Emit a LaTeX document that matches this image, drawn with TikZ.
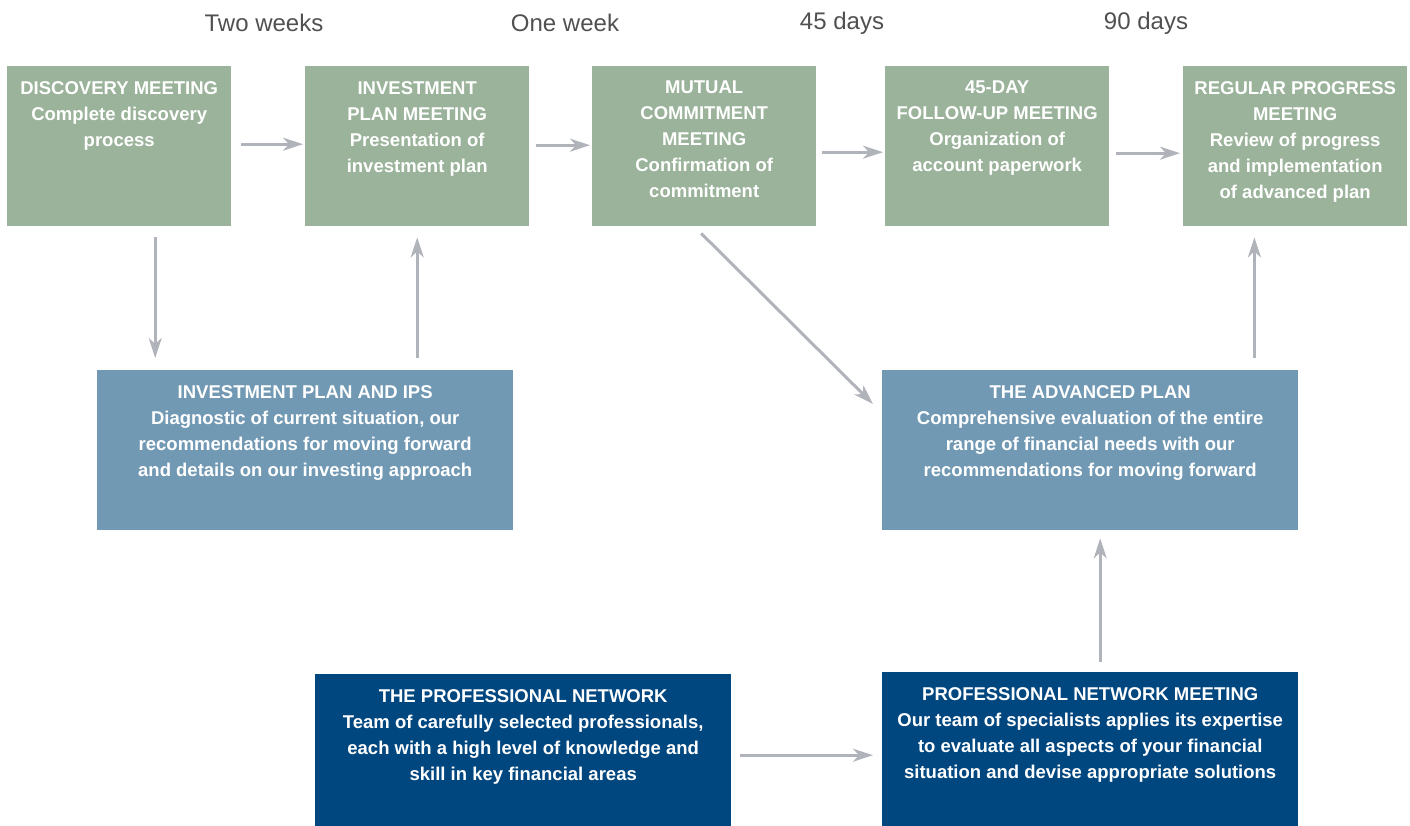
\documentclass[tikz,border=0pt]{standalone}
\usepackage{fontspec}
\setmainfont{Liberation Sans}
\usetikzlibrary{arrows.meta}
\definecolor{stepgreen}{RGB}{154,179,154}
\definecolor{planblue}{RGB}{114,153,180}
\definecolor{netblue}{RGB}{0,70,127}
\definecolor{arrowgrey}{RGB}{176,180,186}
\definecolor{timegrey}{RGB}{80,80,80}
% text of a box, set from its top edge
\newcommand{\boxlines}[3]{\parbox[t][#2pt][t]{#1pt}{\centering\vspace*{15pt}#3}}
\tikzset{
  meeting/.style={
    % The shape:
    rectangle,
    anchor=north west,
    inner sep=0pt,
    % The filling:
    fill=stepgreen,
    text=white,
    font=\bfseries\fontsize{18.5}{26}\selectfont},
  plan/.style={
    meeting,
    fill=planblue},
  network/.style={
    meeting,
    fill=netblue},
  timelabel/.style={
    text=timegrey,
    font=\fontsize{24}{26}\selectfont},
  tip/.style={
    -{Stealth[length=20pt,width=13pt,inset=6pt]},
    draw=arrowgrey,
    line width=3pt}
}

\begin{document}
\begin{tikzpicture}[x=1pt,y=-1pt]
  \useasboundingbox (0,0) rectangle (1410,826);

  % time spans
  \node (twoweeks) [timelabel] at (264,23)  {Two weeks};
  \node (oneweek)  [timelabel] at (565,23)  {One week};
  \node (days45)   [timelabel] at (842,23)  {45 days};
  \node (days90)   [timelabel] at (1146,23) {90 days};

  % meetings
  \node (discovery) [meeting] at (7,66)
    {\boxlines{224}{160}{DISCOVERY MEETING\\Complete discovery\\process}};
  \node (invmeet)   [meeting] at (305,66)
    {\boxlines{224}{160}{INVESTMENT\\PLAN MEETING\\Presentation of\\investment plan}};
  \node (mutual)    [meeting] at (592,66)
    {\boxlines{224}{160}{MUTUAL\\COMMITMENT\\MEETING\\Confirmation of\\commitment}};
  \node (followup)  [meeting] at (885,66)
    {\boxlines{224}{160}{45-DAY\\FOLLOW-UP MEETING\\Organization of\\account paperwork}};
  \node (regular)   [meeting] at (1183,66)
    {\boxlines{224}{160}{REGULAR PROGRESS\\MEETING\\Review of progress\\and implementation\\of advanced plan}};

  % plans
  \node (ips)      [plan] at (97,370)
    {\boxlines{416}{160}{INVESTMENT PLAN AND IPS\\Diagnostic of current situation, our\\recommendations for moving forward\\and details on our investing approach}};
  \node (advanced) [plan] at (882,370)
    {\boxlines{416}{160}{THE ADVANCED PLAN\\Comprehensive evaluation of the entire\\range of financial needs with our\\recommendations for moving forward}};

  % network
  \node (profnet)  [network] at (315,674)
    {\boxlines{416}{152}{THE PROFESSIONAL NETWORK\\Team of carefully selected professionals,\\each with a high level of knowledge and\\skill in key financial areas}};
  \node (netmeet)  [network] at (882,672)
    {\boxlines{416}{154}{PROFESSIONAL NETWORK MEETING\\Our team of specialists applies its expertise\\to evaluate all aspects of your financial\\situation and devise appropriate solutions}};

  % connectors
  \draw[tip,shorten <=10pt,shorten >=2pt] ([yshift=2]discovery.east) -- ([yshift=2]invmeet.west);
  \draw[tip,shorten <=7pt,shorten >=2pt] ([yshift=1]invmeet.east) -- ([yshift=1]mutual.west);
  \draw[tip,shorten <=6pt,shorten >=2pt] ([yshift=-6]mutual.east) -- ([yshift=-6]followup.west);
  \draw[tip,shorten <=7pt,shorten >=3pt] ([yshift=-7]followup.east) -- ([yshift=-7]regular.west);
  \draw[tip,shorten <=11pt,shorten >=12pt] ([xshift=36]discovery.south) -- ([xshift=36]discovery.south |- ips.north);
  \draw[tip,shorten <=12pt,shorten >=11pt] (ips.north -| invmeet.south) -- (invmeet.south);
  \draw[tip] ([xshift=-3,yshift=-7]mutual.south) -- ([xshift=-9,yshift=-34]advanced.north west);
  \draw[tip,shorten <=12pt,shorten >=11pt] ([xshift=-44]advanced.north east) -- ([xshift=-44]advanced.north east |- regular.south);
  \draw[tip,shorten <=10pt,shorten >=8pt] ([xshift=10]netmeet.north) -- ([xshift=10]advanced.south);
  \draw[tip,shorten <=9pt,shorten >=9pt] ([yshift=-5]profnet.east) -- ([yshift=-5]profnet.east -| netmeet.west);
\end{tikzpicture}
\end{document}
